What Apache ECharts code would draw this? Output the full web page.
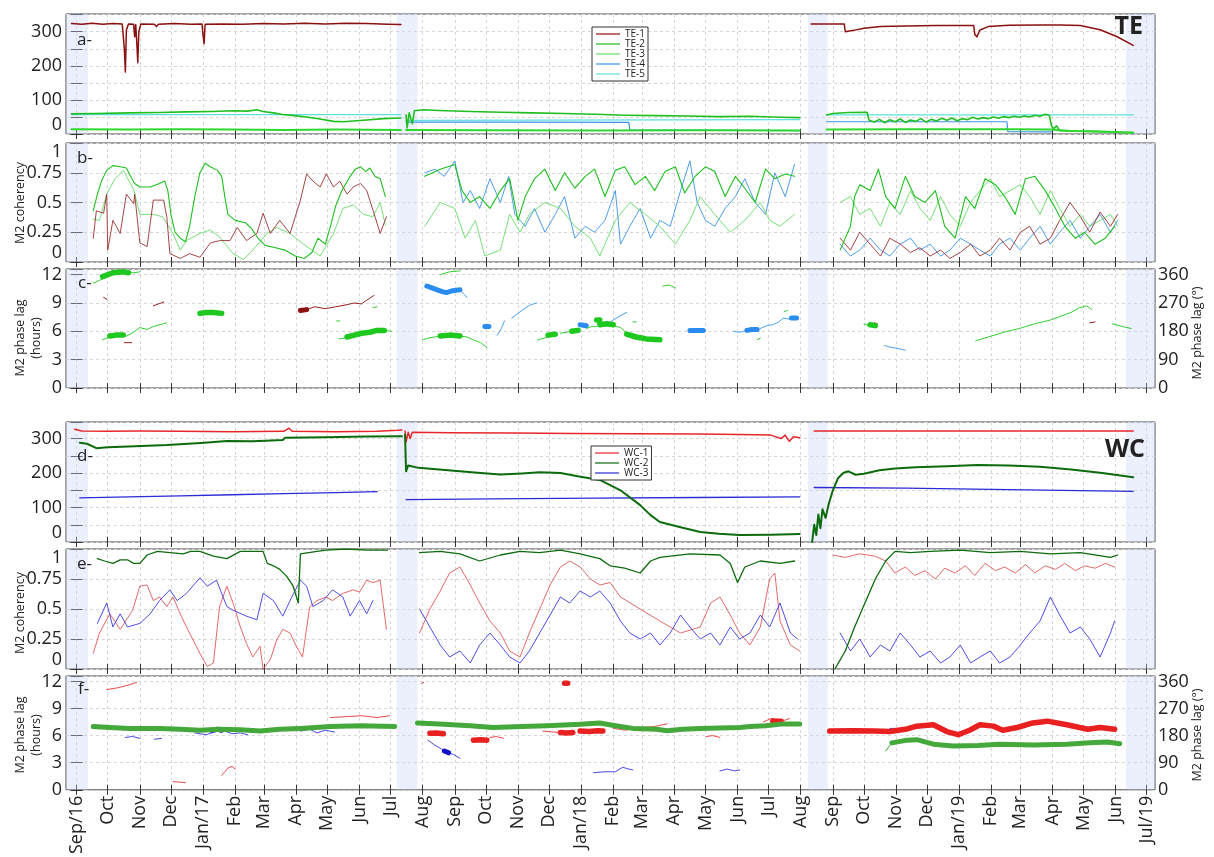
<!DOCTYPE html>
<html>
<head>
<meta charset="utf-8">
<script src="https://cdn.jsdelivr.net/npm/echarts@6/dist/echarts.min.js"></script>
<style>html,body{margin:0;padding:0;background:#fff}#chart{width:1214px;height:857px}</style>
</head>
<body>
<div id="chart"></div>
<script>
// x values are days counted from 1 Sep 2016
var DAY0 = Date.UTC(2016, 8, 1);
var tickLabels = ['Sep/16','Oct','Nov','Dec','Jan/17','Feb','Mar','Apr','May','Jun','Jul','Aug',
  'Sep','Oct','Nov','Dec','Jan/18','Feb','Mar','Apr','May','Jun','Jul','Aug',
  'Sep','Oct','Nov','Dec','Jan/19','Feb','Mar','Apr','May','Jun','Jul/19'];
var monthDays = tickLabels.map(function (s, i) { return (Date.UTC(2016, 8 + i, 1) - DAY0) / 86400000; });
var gaps = [[-11, 11], [309, 329], [706, 725], [1013, 1041]];

// ---- a: TE ----
var te1_a = [
  [[-5,324],[5,322],[15,325],[25,322],[35,324],[44,323],[46,250],[47,182],[48,305],[50,323],[55,322],[56,285],[57,321],[58,270],[59,209],[60,300],[62,323],[75,322],[77,315],[79,322],[95,324],[110,322],[121,323],[122,290],[123,265],[124,322],[140,323],[160,322],[180,324],[200,323],[220,325],[240,323],[260,325],[280,324],[300,322],[313,321]],
  [[709,323],[741,323],[742,300],[750,304],[760,310],[776,315],[800,317],[830,318],[866,318],[867,292],[869,285],[872,305],[880,315],[900,319],[930,320],[950,320],[969,318],[988,306],[1004,286],[1020,260]]
];
var te2_a = [
  [[-5,59],[20,60],[50,62],[80,63],[105,65],[130,66],[151,68],[165,67],[174,71],[180,66],[190,62],[199,57],[210,54],[222,50],[235,44],[248,37],[258,36],[267,38],[280,41],[296,45],[313,47]],
  [[318,56],[319,18],[321,62],[324,30],[326,68],[335,71],[350,69],[380,66],[410,64],[440,62],[470,60],[500,58],[530,55],[560,54],[590,53],[620,51],[650,52],[680,49],[698,48]],
  [[724,56],[730,60],[745,63],[763,64],[765,40],[770,35],[775,43],[780,33],[785,42],[790,36],[795,44],[800,34],[805,41],[810,37],[815,45],[820,35],[825,43],[830,38],[835,46],[840,40],[845,47],[850,39],[855,45],[860,42],[865,49],[870,44],[875,48],[880,45],[885,50],[890,46],[895,51],[900,48],[905,52],[910,49],[915,53],[920,50],[925,55],[930,52],[935,58],[939,54],[941,25],[943,15],[946,24],[949,10],[960,9],[985,7],[1005,5],[1020,4]]
];
var te3_a = [
  [[-5,14],[50,13],[100,14],[150,13],[200,12],[250,13],[313,12]],
  [[318,12],[400,11],[500,10],[600,11],[698,10]],
  [[724,13],[800,14],[900,14],[940,13],[960,9],[990,7],[1020,4]]
];
var te4_a = [
  [[318,35],[420,35],[533,34],[534,12],[698,10]],
  [[724,36],[898,36],[899,7],[941,6]]
];
var te5_a = [
  [[-5,57],[313,57]],
  [[318,40],[698,42]],
  [[724,56],[1020,56]]
];

// ---- b: TE M2 coherency ----
var te1_b = [
  [[16,0.2],[19,0.43],[26,0.41],[29,0.57],[30,0.1],[35,0.35],[42,0.24],[48,0.57],[55,0.49],[56,0.57],[61,0.16],[68,0.13],[74,0.52],[84,0.52],[87,0.38],[90,0.07],[100,0.03],[109,0.07],[119,0.04],[129,0.16],[138,0.18],[148,0.18],[155,0.29],[164,0.18],[174,0.24],[180,0.41],[187,0.24],[196,0.35],[206,0.24],[216,0.52],[222,0.74],[228,0.68],[235,0.63],[241,0.74],[248,0.63],[254,0.68],[261,0.57],[267,0.63],[274,0.66],[280,0.6],[287,0.41],[293,0.24],[299,0.38]],
  [[737,0.2],[747,0.1],[756,0.25],[766,0.15],[776,0.05],[785,0.2],[795,0.15],[805,0.08],[814,0.12],[824,0.05],[834,0.1],[843,0.03],[853,0.08],[863,0.15],[872,0.05],[882,0.1],[891,0.2],[901,0.1],[911,0.25],[920,0.3],[930,0.15],[940,0.2],[949,0.35],[959,0.5],[969,0.38],[978,0.25],[988,0.42],[998,0.3],[1005,0.4]]
];
var te2_b = [
  [[16,0.43],[20,0.57],[24,0.68],[29,0.77],[35,0.81],[42,0.8],[48,0.79],[52,0.72],[56,0.66],[61,0.63],[71,0.63],[80,0.66],[85,0.68],[88,0.6],[91,0.4],[95,0.25],[100,0.2],[105,0.17],[109,0.3],[114,0.55],[119,0.75],[124,0.83],[129,0.8],[136,0.77],[140,0.72],[143,0.55],[146,0.4],[153,0.35],[163,0.33],[169,0.28],[175,0.2],[182,0.14],[192,0.12],[201,0.1],[211,0.05],[220,0.03],[227,0.08],[233,0.2],[240,0.15],[245,0.3],[250,0.47],[256,0.6],[264,0.72],[269,0.78],[274,0.8],[279,0.76],[283,0.79],[288,0.72],[293,0.7],[298,0.55]],
  [[336,0.72],[351,0.78],[365,0.82],[372,0.6],[380,0.5],[389,0.55],[399,0.45],[409,0.6],[418,0.7],[426,0.35],[433,0.55],[442,0.7],[452,0.78],[462,0.6],[471,0.75],[481,0.62],[491,0.72],[500,0.78],[510,0.55],[520,0.77],[529,0.8],[539,0.65],[549,0.72],[558,0.6],[568,0.76],[578,0.8],[587,0.58],[597,0.72],[607,0.8],[616,0.76],[626,0.55],[636,0.72],[645,0.62],[655,0.5],[665,0.78],[674,0.7],[684,0.74],[693,0.72]],
  [[737,0.1],[747,0.3],[751,0.55],[756,0.65],[766,0.6],[774,0.78],[781,0.55],[790,0.45],[800,0.72],[809,0.55],[819,0.5],[829,0.6],[838,0.3],[848,0.2],[858,0.55],[867,0.45],[877,0.7],[887,0.65],[896,0.55],[906,0.4],[916,0.7],[925,0.72],[935,0.6],[945,0.45],[954,0.3],[964,0.2],[973,0.25],[983,0.15],[993,0.2],[1002,0.3]]
];
var te3_b = [
  [[16,0.36],[22,0.35],[29,0.57],[37,0.7],[45,0.77],[55,0.61],[61,0.4],[74,0.4],[83,0.38],[93,0.24],[100,0.1],[106,0.18],[119,0.24],[129,0.27],[138,0.21],[151,0.07],[161,0.02],[170,0.1],[184,0.24],[193,0.29],[206,0.24],[219,0.15],[235,0.05],[248,0.24],[257,0.45],[267,0.48],[277,0.4],[286,0.38],[293,0.5],[298,0.31]],
  [[336,0.3],[351,0.5],[365,0.45],[375,0.2],[385,0.35],[394,0.05],[409,0.1],[418,0.4],[428,0.25],[437,0.4],[452,0.5],[467,0.45],[481,0.3],[496,0.2],[505,0.05],[520,0.35],[534,0.5],[549,0.4],[563,0.3],[578,0.15],[592,0.35],[602,0.55],[616,0.4],[631,0.25],[645,0.35],[660,0.5],[669,0.35],[679,0.3],[693,0.4]],
  [[737,0.5],[747,0.55],[756,0.4],[766,0.45],[776,0.3],[785,0.5],[795,0.4],[805,0.6],[814,0.45],[824,0.35],[834,0.55],[843,0.4],[853,0.3],[863,0.5],[872,0.6],[882,0.7],[891,0.55],[901,0.6],[911,0.65],[920,0.55],[930,0.4],[940,0.6],[949,0.45],[959,0.3],[969,0.4],[978,0.3],[988,0.35],[998,0.4],[1005,0.3]]
];
var te4_b = [
  [[336,0.75],[346,0.78],[355,0.72],[365,0.85],[373,0.5],[380,0.6],[389,0.45],[399,0.7],[409,0.5],[417,0.72],[423,0.4],[433,0.3],[442,0.45],[452,0.25],[462,0.4],[471,0.55],[481,0.2],[491,0.3],[500,0.25],[510,0.35],[520,0.6],[525,0.15],[534,0.3],[544,0.45],[554,0.2],[563,0.35],[573,0.3],[583,0.6],[592,0.85],[599,0.5],[607,0.35],[616,0.3],[626,0.45],[636,0.55],[645,0.7],[655,0.5],[665,0.4],[674,0.75],[684,0.55],[693,0.82]],
  [[737,0.15],[747,0.05],[756,0.1],[766,0.2],[776,0.1],[785,0.05],[795,0.15],[805,0.2],[814,0.1],[824,0.15],[834,0.05],[843,0.1],[853,0.2],[863,0.15],[872,0.1],[882,0.05],[891,0.15],[901,0.2],[911,0.1],[920,0.2],[930,0.3],[940,0.15],[949,0.25],[959,0.35],[969,0.2],[978,0.3],[988,0.4],[998,0.25],[1005,0.35]]
];

// ---- c: TE M2 phase lag (hours) ----
var te2_c_thin = [
  [[16,11.1],[22,11.4],[28,11.7]], [[50,12.2],[55,12.2],[61,12.3]], [[25,5.1],[32,5.4]],
  [[45,5.5],[48,5.5],[55,5.9],[61,6.4],[68,6.2],[74,6.5],[80,6.7],[87,6.9]],
  [[251,7.1],[254,7.1]], [[286,8.5],[290,8.6]], [[253,5.2],[260,5.3]], [[297,6.1],[304,6.0]],
  [[351,12.0],[360,12.3],[370,12.4]], [[334,5.1],[340,5.3],[351,5.5]],
  [[370,5.5],[377,5.4],[383,5.1],[390,4.8],[396,4.3]], [[445,5.1],[452,5.3],[460,5.6]],
  [[467,5.8],[473,5.9],[480,6.1],[486,6.3]], [[492,6.3],[497,6.5],[502,6.5]],
  [[518,6.6],[525,6.4],[531,5.8]], [[566,10.8],[572,10.9],[578,10.6]], [[537,7.0],[540,7.0]],
  [[657,5.1],[660,5.3]], [[683,8.1],[686,8.2]],
  [[868,5.0],[880,5.4],[895,5.9],[910,6.3],[925,6.8],[940,7.2],[950,7.6],[960,8.0],[968,8.5],[975,8.7],[980,8.3]],
  [[1000,6.8],[1010,6.5],[1018,6.3]], [[760,6.8],[765,6.6]]
];
var te2_c_thick = [
  [[25,11.8],[35,12.2],[45,12.3],[50,12.2]], [[32,5.5],[38,5.6],[45,5.6]],
  [[119,7.9],[125,8.0],[132,8.0],[140,7.9]],
  [[261,5.4],[268,5.6],[275,5.8],[283,5.9],[290,6.1],[297,6.1]],
  [[351,5.5],[360,5.6],[370,5.5]], [[455,5.6],[462,5.7]], [[478,6.0],[484,6.1]],
  [[505,6.7],[512,6.8],[518,6.7]], [[502,7.2],[505,7.2]],
  [[531,5.7],[540,5.4],[550,5.2],[563,5.1]], [[766,6.7],[771,6.6]]
];
var te1_c = [
  [[26,9.6],[29,9.4]], [[46,4.8],[53,4.8]], [[74,8.7],[79,8.9],[84,9.1]],
  [[222,8.3],[230,8.6],[240,8.4],[250,8.6],[260,8.8],[268,9.0],[275,8.9],[280,9.3],[287,9.8]],
  [[770,6.9],[773,6.8]], [[978,6.9],[983,7.0]]
];
var te1_c_thick = [[[216,8.2],[222,8.3]]];
var te4_c_thin = [
  [[370,10.4],[374,9.9],[377,9.6]], [[406,5.6],[410,6.3],[413,7.1]],
  [[420,7.4],[426,7.9],[432,8.4],[438,8.8],[444,9.0]], [[512,6.7],[518,7.2],[524,7.6],[531,8.0]],
  [[634,6.0],[640,5.9],[646,6.1],[652,6.2],[657,6.2]],
  [[660,6.3],[666,6.6],[672,6.7],[678,7.0],[682,7.4],[688,7.3]],
  [[780,4.5],[786,4.3],[792,4.2],[800,4.0]]
];
var te4_c_thick = [
  [[338,10.8],[343,10.6],[348,10.4],[353,10.2],[357,10.1],[363,10.3],[370,10.4]],
  [[394,6.5],[398,6.5]], [[486,6.7],[492,6.6]], [[592,6.1],[598,6.1],[605,6.1]],
  [[647,6.1],[652,6.2],[657,6.2]], [[690,7.4],[695,7.4]]
];

// ---- d: WC ----
var wc1_d = [
  [[-2,327],[5,322],[30,321],[60,322],[100,321],[150,320],[200,321],[205,330],[208,321],[250,320],[290,321],[310,324],[314,325]],
  [[317,322],[318,290],[320,318],[322,300],[324,318],[360,317],[420,316],[480,315],[540,314],[600,313],[640,312],[670,310],[680,300],[684,310],[688,292],[692,305],[698,302]],
  [[712,322],[1020,322]]
];
var wc2_d = [
  [[3,288],[10,285],[19,272],[30,275],[50,277],[87,281],[120,287],[145,293],[146,289],[170,292],[199,296],[201,302],[240,304],[280,306],[314,307]],
  [[317,312],[318,205],[320,222],[330,215],[350,210],[370,205],[390,200],[409,196],[430,199],[447,202],[467,200],[485,190],[505,180],[525,150],[544,107],[554,78],[563,58],[583,43],[602,29],[620,24],[640,20],[670,21],[698,23]],
  [[710,0],[712,50],[714,20],[716,80],[718,40],[720,95],[723,70],[726,110],[730,150],[735,185],[740,200],[745,205],[752,195],[760,198],[775,208],[790,213],[810,217],[840,220],[870,223],[900,222],[930,218],[960,210],[990,200],[1020,188]]
];
var wc3_d = [
  [[3,128],[50,131],[100,134],[150,137],[200,140],[250,143],[290,146]],
  [[318,123],[400,125],[500,127],[600,129],[698,131]],
  [[712,158],[800,156],[900,152],[1020,147]]
];

// ---- e: WC M2 coherency ----
var wc1_e = [
  [[16,0.13],[22,0.3],[32,0.46],[42,0.33],[54,0.49],[61,0.69],[68,0.7],[74,0.57],[80,0.6],[87,0.52],[93,0.6],[100,0.46],[106,0.35],[119,0.13],[126,0.02],[132,0.05],[138,0.52],[145,0.69],[151,0.55],[158,0.35],[164,0.21],[170,0.1],[177,0.19],[180,0.0],[187,0.08],[193,0.24],[199,0.33],[206,0.3],[212,0.19],[218,0.1],[225,0.52],[232,0.57],[241,0.6],[247,0.57],[257,0.63],[267,0.66],[273,0.64],[280,0.74],[286,0.72],[293,0.74],[299,0.33]],
  [[331,0.3],[341,0.5],[351,0.65],[360,0.8],[370,0.85],[380,0.7],[389,0.55],[399,0.4],[409,0.3],[418,0.15],[428,0.1],[437,0.3],[447,0.5],[457,0.7],[467,0.85],[476,0.9],[486,0.85],[496,0.75],[505,0.7],[515,0.72],[525,0.6],[544,0.5],[563,0.4],[583,0.3],[602,0.35],[612,0.55],[621,0.6],[631,0.45],[640,0.3],[650,0.2],[660,0.35],[669,0.75],[674,0.8],[679,0.4],[689,0.2],[698,0.15]],
  [[730,0.95],[742,0.93],[756,0.96],[771,0.94],[781,0.9],[790,0.8],[800,0.85],[809,0.78],[819,0.82],[829,0.75],[838,0.84],[848,0.8],[858,0.86],[867,0.78],[877,0.88],[887,0.82],[896,0.85],[906,0.8],[916,0.87],[925,0.8],[935,0.86],[945,0.83],[954,0.88],[964,0.82],[973,0.86],[983,0.84],[993,0.88],[1002,0.85]]
];
var wc2_e = [
  [[20,0.92],[27,0.9],[35,0.88],[42,0.91],[49,0.91],[55,0.88],[61,0.88],[68,0.95],[78,0.98],[90,0.97],[103,0.96],[110,0.98],[119,0.98],[132,0.94],[145,0.92],[158,0.98],[170,0.98],[180,0.98],[184,0.88],[190,0.86],[196,0.83],[203,0.77],[209,0.69],[214,0.55],[216,0.96],[232,0.98],[241,0.99],[260,1.0],[280,0.99],[300,0.99]],
  [[331,0.97],[351,0.98],[370,0.96],[389,0.9],[409,0.95],[428,0.98],[447,0.97],[467,0.99],[486,0.96],[505,0.92],[515,0.86],[529,0.84],[544,0.8],[554,0.9],[563,0.93],[592,0.96],[621,0.95],[631,0.88],[638,0.72],[645,0.85],[660,0.9],[679,0.88],[693,0.9]],
  [[732,0.0],[742,0.15],[751,0.35],[761,0.55],[771,0.75],[781,0.9],[790,0.98],[805,0.97],[824,0.98],[853,0.99],[882,0.97],[911,0.98],[940,0.96],[969,0.97],[998,0.93],[1005,0.95]]
];
var wc3_e = [
  [[20,0.38],[29,0.55],[35,0.35],[42,0.46],[49,0.35],[61,0.38],[71,0.46],[80,0.57],[90,0.66],[97,0.57],[106,0.63],[119,0.76],[126,0.69],[135,0.74],[145,0.52],[151,0.49],[164,0.44],[174,0.41],[180,0.63],[190,0.57],[199,0.44],[206,0.57],[216,0.74],[222,0.69],[228,0.52],[238,0.57],[247,0.66],[257,0.6],[264,0.44],[273,0.57],[280,0.46],[286,0.57]],
  [[331,0.5],[341,0.35],[351,0.2],[360,0.1],[370,0.15],[380,0.05],[389,0.2],[399,0.3],[409,0.2],[418,0.1],[428,0.05],[437,0.15],[447,0.3],[457,0.45],[467,0.6],[476,0.55],[486,0.65],[496,0.6],[505,0.65],[515,0.55],[525,0.4],[534,0.3],[544,0.25],[554,0.3],[563,0.2],[573,0.3],[583,0.45],[592,0.35],[602,0.25],[612,0.3],[621,0.2],[631,0.35],[640,0.25],[650,0.3],[660,0.45],[669,0.35],[679,0.55],[689,0.3],[696,0.25]],
  [[737,0.3],[747,0.15],[756,0.25],[766,0.1],[776,0.2],[785,0.15],[795,0.3],[805,0.2],[814,0.1],[824,0.15],[834,0.05],[843,0.1],[853,0.2],[863,0.05],[872,0.1],[882,0.15],[891,0.05],[901,0.1],[911,0.2],[920,0.3],[930,0.4],[940,0.6],[949,0.45],[959,0.3],[969,0.35],[978,0.25],[988,0.1],[998,0.3],[1002,0.4]]
];

// ---- f: WC M2 phase lag (hours) ----
var wc2_f = [
  [[16,7.0],[32,6.9],[51,6.8],[80,6.8],[100,6.7],[119,6.6],[138,6.7],[158,6.65],[177,6.5],[196,6.7],[216,6.8],[245,7.0],[274,7.1],[307,7.0]],
  [[329,7.4],[350,7.3],[380,7.1],[402,6.9],[430,7.0],[454,7.1],[486,7.25],[505,7.4],[520,7.1],[537,6.8],[560,6.7],[570,6.55],[585,6.7],[602,6.8],[640,6.9],[650,7.0],[665,7.1],[682,7.3],[698,7.3]],
  [[787,5.2],[802,5.5],[811,5.55],[827,5.05],[846,4.85],[870,4.9],[891,5.05],[923,4.95],[956,5.05],[978,5.2],[995,5.3],[1007,5.1]]
];
var wc2_f_thin = [[[781,4.3],[787,5.2]]];
var wc1_f_thick = [
  [[341,6.25],[347,6.3],[354,6.2]], [[383,5.5],[390,5.55],[396,5.5]], [[467,6.35],[473,6.3],[479,6.35]],
  [[486,6.5],[495,6.45],[503,6.55],[508,6.5]], [[471,11.8],[474,11.8]], [[672,7.6],[680,7.6]],
  [[727,6.5],[750,6.55],[770,6.5],[785,6.45],[800,6.7],[811,7.05],[827,7.2],[840,6.45],[851,6.1],[862,6.6],[872,7.2],[885,7.05],[894,6.6],[908,6.9],[923,7.4],[937,7.6],[956,7.2],[976,6.7],[988,6.9],[1002,6.7]]
];
var wc1_f_thin = [
  [[29,11.1],[40,11.3],[50,11.6],[58,11.9]], [[93,0.9],[100,0.85],[105,0.8]],
  [[140,1.6],[143,2.0],[146,2.4],[150,2.6],[153,2.3]], [[245,8.0],[260,8.1],[275,8.2],[290,8.0],[302,8.2]],
  [[333,11.8],[335,11.9]], [[399,5.8],[405,5.9],[412,5.7]], [[450,6.5],[460,6.4],[467,6.35]],
  [[518,6.8],[530,6.6],[545,6.9],[557,7.0],[570,7.3]], [[608,5.9],[614,6.0],[621,5.8]],
  [[663,7.5],[670,7.9],[684,7.7],[688,7.9]]
];
var wc3_f_thin = [
  [[47,5.8],[54,5.9],[61,5.7]], [[75,5.6],[82,5.7]],
  [[114,6.3],[125,6.1],[133,6.4],[141,6.6],[150,6.2],[158,6.3],[165,6.1]],
  [[216,6.5],[225,6.7],[232,6.3],[240,6.6],[249,6.4]],
  [[339,5.5],[345,5.0],[351,4.6],[357,4.2],[364,3.9],[370,3.5]],
  [[499,1.9],[510,2.0],[520,2.0],[527,2.5],[533,2.3],[537,2.2]],
  [[621,2.1],[628,2.3],[635,2.1],[640,2.2]], [[785,6.8],[792,6.8]]
];
var wc3_f_thick = [[[130,6.6],[136,6.7],[140,6.6]], [[355,4.3],[359,4.1]]];

// colours
var C = {
  te1: '#8b1010', te2: '#1fbf1f', te3: '#66dc66', te4: '#3a92e6', te5: '#5fe0e0',
  wc1: '#e8262a', wc2: '#0c6b0c', wc2f: '#45a83a', wc3: '#2a2ad6'
};

var FONT = "'Open Sans', 'Noto Sans', sans-serif";
var panels = [
  {top: 14, height: 120, min: 0, max: 352, interval: 50, step: 100},
  {top: 143, height: 119, min: 0, max: 1, interval: 0.25, step: 0.25, alignEnds: true},
  {top: 269, height: 119, min: 0, max: 12.6, interval: 3, step: 3, right: [0, 378, 90]},
  {top: 422, height: 120, min: 0, max: 348, interval: 50, step: 100},
  {top: 549, height: 120, min: 0, max: 1, interval: 0.25, step: 0.25, alignEnds: true},
  {top: 676, height: 119, min: 0, max: 12.6, interval: 3, step: 3, right: [0, 378, 90]}
];
var XMIN = -10.3, XMAX = 1041;
var dash = {type: [3, 3], color: '#d6d6d6', width: 1};

function onStep(step) {
  return function (v) {
    var k = v / step;
    return Math.abs(k - Math.round(k)) < 1e-6 ? String(v) : '';
  };
}

var grid = [], xAxis = [], yAxis = [];
panels.forEach(function (p, i) {
  grid.push({left: 66, right: 59, top: p.top, height: p.height, show: true,
    borderColor: '#444', borderWidth: 1, backgroundColor: 'transparent'});
  var last = i === panels.length - 1;
  xAxis.push({
    type: 'value', gridIndex: i, position: 'bottom', min: XMIN, max: XMAX,
    axisLine: {show: false},
    axisTick: {show: true, inside: true, length: 5, customValues: monthDays, lineStyle: {color: '#333'}},
    axisLabel: last ? {
      show: true, customValues: monthDays, rotate: 90, margin: 6, fontSize: 18, color: '#222', fontFamily: FONT,
      formatter: function (v) { return tickLabels[monthDays.indexOf(v)] || ''; }
    } : {show: false},
    splitLine: {show: true, lineStyle: dash}
  });
  xAxis.push({
    type: 'value', gridIndex: i, position: 'top', min: XMIN, max: XMAX,
    axisLine: {show: false},
    axisTick: {show: true, inside: true, length: 5, customValues: monthDays, lineStyle: {color: '#333'}},
    axisLabel: {show: false}, splitLine: {show: false}
  });
  yAxis.push({
    type: 'value', gridIndex: i, position: 'left', min: p.min, max: p.max, interval: p.interval,
    axisLine: {show: false},
    axisTick: {show: true, inside: true, length: 6, lineStyle: {color: '#333'}},
    axisLabel: {show: true, margin: 4, fontSize: 18, color: '#222', fontFamily: FONT,
      formatter: onStep(p.step),
      verticalAlignMinLabel: p.right ? null : 'bottom',
      verticalAlignMaxLabel: p.alignEnds ? 'top' : null},
    splitLine: {show: true, lineStyle: dash}
  });
  if (p.right) {
    yAxis.push({
      type: 'value', gridIndex: i, position: 'right', min: p.right[0], max: p.right[1], interval: p.right[2],
      axisLine: {show: false},
      axisTick: {show: true, inside: true, length: 6, lineStyle: {color: '#333'}},
      axisLabel: {show: true, margin: 3, fontSize: 18, color: '#222', fontFamily: FONT, formatter: onStep(90)},
      splitLine: {show: false}
    });
  } else {
    yAxis.push({
      type: 'value', gridIndex: i, position: 'right', min: p.min, max: p.max, interval: p.interval,
      axisLine: {show: false},
      axisTick: {show: true, inside: true, length: 6, lineStyle: {color: '#333'}},
      axisLabel: {show: false}, splitLine: {show: false}
    });
  }
});

function segs(list) {
  var out = [];
  list.forEach(function (s, k) {
    if (k) out.push(['-', '-']);
    out = out.concat(s);
  });
  return out;
}
function line(name, panel, data, color, width, z) {
  return {
    name: name, type: 'line', xAxisIndex: panel * 2, yAxisIndex: panel * 2,
    data: segs(data), symbol: 'none', showSymbol: false, connectNulls: false, silent: true,
    lineStyle: {color: color, width: width, cap: 'round', join: 'round'},
    itemStyle: {color: color}, z: z || 3
  };
}

var series = [];
panels.forEach(function (p, i) {
  series.push({
    type: 'line', xAxisIndex: i * 2, yAxisIndex: i * 2, data: [], silent: true, z: 1,
    markArea: {silent: true, itemStyle: {color: 'rgba(200,208,245,0.35)'},
      data: gaps.map(function (g) { return [{xAxis: g[0]}, {xAxis: g[1]}]; })}
  });
});

series.push(
  line('TE-5', 0, te5_a, C.te5, 1.2),
  line('TE-4', 0, te4_a, C.te4, 1.2),
  line('TE-1', 0, te1_a, C.te1, 1.5),
  line('TE-2', 0, te2_a, C.te2, 1.6),
  line('TE-3', 0, te3_a, '#2fd82f', 2),

  line('TE-4', 1, te4_b, C.te4, 0.9),
  line('TE-3', 1, te3_b, C.te3, 0.9),
  line('TE-1', 1, te1_b, '#9a3030', 0.9),
  line('TE-2', 1, te2_b, C.te2, 1.1),

  line('TE-1', 2, te1_c, '#9a2020', 1),
  line('TE-1', 2, te1_c_thick, C.te1, 5),
  line('TE-4', 2, te4_c_thin, '#4ea2ee', 1),
  line('TE-4', 2, te4_c_thick, '#2a8cf0', 5),
  line('TE-2', 2, te2_c_thin, '#33cc33', 1),
  line('TE-2', 2, te2_c_thick, '#1ec81e', 5.5),

  line('WC-3', 3, wc3_d, C.wc3, 1.3),
  line('WC-1', 3, wc1_d, C.wc1, 1.5),
  line('WC-2', 3, wc2_d, C.wc2, 2),

  line('WC-1', 4, wc1_e, '#e05858', 0.9),
  line('WC-3', 4, wc3_e, '#3a3ae0', 0.9),
  line('WC-2', 4, wc2_e, C.wc2, 1.3),

  line('WC-3', 5, wc3_f_thin, '#4a4ae6', 1),
  line('WC-3', 5, wc3_f_thick, '#1010c8', 5),
  line('WC-1', 5, wc1_f_thin, '#ea4a4a', 1),
  line('WC-1', 5, wc1_f_thick, '#e82020', 5.5),
  line('WC-2', 5, wc2_f_thin, C.wc2f, 1),
  line('WC-2', 5, wc2_f, C.wc2f, 5)
);

function vtext(txt, x, y, size) {
  return {type: 'text', x: x, y: y, rotation: Math.PI / 2, silent: true,
    style: {text: txt, fill: '#222', font: size + 'px ' + FONT, textAlign: 'center', textVerticalAlign: 'middle'}};
}
function htext(txt, x, y, font, align) {
  return {type: 'text', x: x, y: y, silent: true, z: 10,
    style: {text: txt, fill: '#222', font: font, textAlign: align || 'left', textVerticalAlign: 'middle'}};
}

var legendColors = {
  'TE-1': C.te1, 'TE-2': C.te2, 'TE-3': C.te3, 'TE-4': C.te4, 'TE-5': C.te5,
  'WC-1': C.wc1, 'WC-2': C.wc2, 'WC-3': C.wc3
};
function legendItems(names) {
  return names.map(function (n) {
    return {name: n, icon: 'rect', itemStyle: {color: legendColors[n]}};
  });
}
var legendBase = {
  orient: 'vertical', itemWidth: 24, itemHeight: 1.2, itemGap: 0,
  backgroundColor: '#fff', borderColor: '#333', borderWidth: 1, padding: [2, 3, 2, 4],
  selectedMode: false, z: 20,
  textStyle: {fontSize: 10, lineHeight: 8.6, color: '#222', fontFamily: FONT}
};

var option = {
  animation: false,
  backgroundColor: '#fff',
  grid: grid,
  xAxis: xAxis,
  yAxis: yAxis,
  legend: [
    Object.assign({}, legendBase, {left: 592, top: 27, data: legendItems(['TE-1', 'TE-2', 'TE-3', 'TE-4', 'TE-5'])}),
    Object.assign({}, legendBase, {left: 591, top: 446, data: legendItems(['WC-1', 'WC-2', 'WC-3'])})
  ],
  graphic: [
    htext('a-', 77, 40, '17px ' + FONT), htext('b-', 77, 158, '17px ' + FONT),
    htext('c-', 78, 283, '17px ' + FONT), htext('d-', 77, 456, '17px ' + FONT),
    htext('e-', 77, 564, '17px ' + FONT), htext('f-', 78, 689, '17px ' + FONT),
    htext('TE', 1143, 27, 'bold 25px ' + FONT, 'right'),
    htext('WC', 1145, 450, 'bold 25px ' + FONT, 'right'),
    vtext('M2 coherency', 20, 203, 12.5),
    vtext('M2 phase lag', 20, 338, 12.5), vtext('(hours)', 36, 338, 12.5),
    vtext('M2 coherency', 20, 613, 12.5),
    vtext('M2 phase lag', 20, 735, 12.5), vtext('(hours)', 36, 735, 12.5),
    vtext('M2 phase lag (°)', 1197, 333, 12.5), vtext('M2 phase lag (°)', 1197, 735, 12.5)
  ],
  series: series
};

var chart = echarts.init(document.getElementById('chart'));
chart.setOption(option);
</script>
</body>
</html>
